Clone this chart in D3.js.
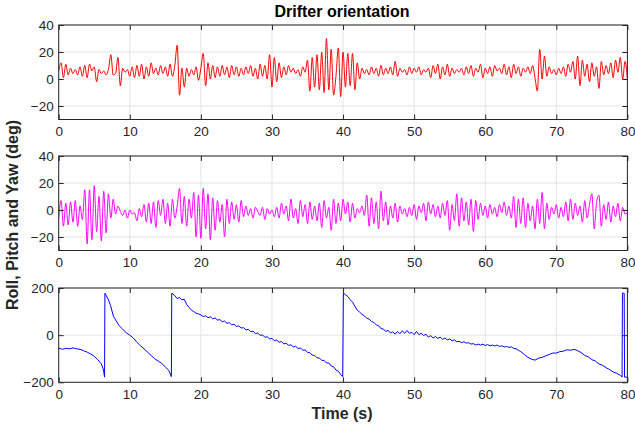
<!DOCTYPE html>
<html>
<head>
<meta charset="utf-8">
<script src="https://cdn.jsdelivr.net/npm/d3@7"></script>
<style>
html,body{margin:0;padding:0;background:#fff;}
svg{display:block;font-family:"Liberation Sans",Arial,Helvetica,sans-serif;}
</style>
</head>
<body>
<svg id="chart" width="635" height="430"></svg>
<script>
// ---------------- DATA ----------------
const title = "Drifter orientation";
const yLabel = "Roll, Pitch and Yaw (deg)";
const xLabel = "Time (s)";
const xTicks = [0, 10, 20, 30, 40, 50, 60, 70, 80];
const rollTicks = [-20, 0, 20, 40];
const pitchTicks = [-20, 0, 20, 40];
const yawTicks = [-200, 0, 200];
const sampleInterval = 1 / 3; // seconds between roll/pitch samples

// Roll (deg), 3 samples per second, t = 0 .. 80 s
const roll = [
  6, 12, 1,   11, 3, 8,    4, 7, 3,    9, 2, 10,   1, 11, 6,   9, -2, 7,
  4, 6, 3,    7, 18, 3,    4, 16, -5,  8, 5, 7,    2, 9, 1,    10, 2, 11,
  0, 9, 2,    12, 4, 8,    3, 10, 4,   9, 2, 11,   2, 10, 25,  -12, 8, -6,
  8, 2, 7,    3, 9, -1,    8, 19, -5,  12, 0, 10,  1, 9, 2,    10, 3, 9,
  1, 10, 3,   9, 2, 8,     3, 9, 4,    10, 2, 8,   0, 11, 2,   10, 0, 18,
  -6, 16, -2, 12, 1, 9,    3, 10, 5,   8, 4, 7,    2, 9, 5,    14, -9, 16,
  -6, 18, -8, 20, -10, 30, -8, 22, -12, 2, 23, -13, 20, -6, 19, -5, 19, -8,
  12, 0, 8,   4, 7, 3,     9, 4, 8,    2, 10, 3,   8, 4, 9,    3, 13, 2,
  8, 5, 7,    3, 9, 4,     8, 5, 9,    3, 7, 5,    8, 1, 10,   4, 11, 0,
  9, 3, 11,   2, 8, 4,     7, 5, 8,    3, 9, 4,    10, 2, 8,   5, 11, 1,
  8, 4, 9,    2, 10, 6,    8, 4, 11,   3, 9, 1,    11, 4, 9,   2, 8, 5,
  9, 4, 10,   1, -9, 22,   0, 17, 2,   9, 4, 7,    3, 8, 4,    9, 2, 11,
  5, 13, 0,   17, -5, 14,  2, 11, -2,  12, 2, 9,   -7, 13, 3,  10, 4, 12,
  1, 14, 5,   16, 0, 13,   0
];

// Pitch (deg), 3 samples per second, t = 0 .. 80 s
const pitch = [
  -6, 7, -12,  5, -11, 6,   -9, 7, -12,  3, -7, 15,  -25, 15, -22, 18, -16, 10,
  -23, 14, -17, 12, -6, 8,  -3, 3, -1,   -4, 0, -6,  0, -3, -2,   -8, 1, -5,
  4, -9, 5,    -10, 6, -13, 7, -4, 8,    -10, 5, -12, 8, -6, 3,   16, -10, 10,
  -12, 8, -6,  13, -20, 11, -21, 16, -14, 12, -22, 9, -15, 7, -9,  4, -20, 8,
  -10, 6, -7,  4, -9, 7,    -5, 3, -4,   1, -6, 2,   -1, -4, 2,   -7, 1, -3,
  0, -5, 2,    -6, 5, -3,   3, -8, 8,    -6, 1, -10, 7, -5, 4,    -10, 6, -7,
  3, -8, 5,    -13, 7, -6,  2, -15, 8,   -10, 5, -8, 8, -3, 6,    -9, 5, -6,
  1, -2, 3,    -4, 11, -12, 9, -10, 6,   -14, 14, -8, 6, -11, 3,  -6, 5, -9,
  3, -3, 1,    -5, 2, -4,   4, -7, 3,    -2, 5, -8,  6, -3, 4,    -5, 3, -6,
  5, -4, 7,    -15, 4, -8,  12, -12, 9,  -8, 6, -11, 8, -16, 7,   -7, 5, -4,
  3, -6, 4,    -3, 2, -5,   4, -2, 6,    -4, 3, -6,  10, -13, 8,  -10, 9, -13,
  5, -8, 3,    -14, 8, -10, 13, -14, 5,  -7, 2, -3,  4, -6, 2,    -5, 6, -8,
  8, -7, 5,    -4, 3, -9,   7, -6, 4,    12, -14, 6, 11, -12, 4,  -7, 6, -9,
  3, -5, 5,    -8, 2, -3,   -2
];

// Yaw (deg): [time (s), value] pairs, wraps at +/-180
const yaw = [
  [0,-55],[0.5,-60],[1,-56],[1.5,-58],[2,-54],[2.5,-58],[3,-60],[3.5,-66],[4,-72],[4.5,-80],
  [5,-90],[5.5,-104],[6,-122],[6.3,-148],[6.45,-178],[6.5,178],[7,150],[7.3,125],[7.7,80],[8,65],
  [8.5,40],[9,25],[9.5,10],[10,0],[10.5,-12],[11,-30],[11.5,-45],[12,-58],[12.5,-72],[13,-86],
  [13.5,-100],[14,-110],[14.5,-120],[15,-135],[15.5,-150],[15.85,-176],[15.9,178],
  [16.33,168],[16.67,155],[17,160],[17.33,150],[17.67,152],[18,130],[18.33,118],[18.67,106],[19,100],
  [19.33,93],[19.67,90],[20,86],[20.33,79],[20.67,82],[21,74],[21.33,78],[21.67,69],[22,73],[22.33,64],
  [22.67,66],[23,57],[23.33,60],[23.67,50],[24,53],[24.33,44],[24.67,46],[25,37],[25.33,39],[25.67,30],
  [26,32],[26.33,22],[26.67,25],[27,15],[27.33,17],[27.67,7],[28,9],[28.33,-1],[28.67,1],[29,-9],
  [29.33,-7],[29.67,-16],[30,-14],[30.33,-23],[30.67,-21],[31,-30],[31.33,-27],[31.67,-37],[32,-34],[32.33,-43],
  [32.67,-41],[33,-50],[33.33,-47],[33.67,-57],[34,-54],[34.33,-64],[34.67,-63],[35,-73],[35.33,-74],[35.67,-85],
  [36,-86],[36.33,-96],[36.67,-97],[37,-107],[37.33,-107],[37.67,-118],[38,-118],[38.33,-131],[38.67,-134],[39,-148],
  [39.33,-153],[39.67,-167],[39.95,-176],[40.05,178],
  [40.33,172],[40.67,164],[41,150],[41.33,140],[41.67,122],[42,106],[42.33,98],[42.67,88],[43,82],[43.33,72],
  [43.67,68],[44,58],[44.33,54],[44.67,44],[45,40],[45.33,28],[45.67,26],[46,16],[46.33,20],[46.67,10],
  [47,14],[47.33,4],[47.67,16],[48,6],[48.33,18],[48.67,8],[49,20],[49.33,8],[49.67,12],[50,2],
  [50.33,16],[50.67,2],[51,8],[51.33,-2],[51.67,4],[52,-8],[52.33,-2],[52.67,-12],[53,-6],[53.33,-14],
  [53.67,-8],[54,-18],[54.33,-12],[54.67,-20],[55,-16],[55.33,-24],[55.67,-20],[56,-28],[56.33,-26],[56.67,-32],
  [57,-28],[57.33,-34],[57.67,-32],[58,-38],[58.33,-36],[58.67,-42],[59,-38],[59.33,-42],[59.67,-38],[60,-44],
  [60.33,-40],[60.67,-45],[61,-42],[61.33,-46],[61.67,-42],[62,-48],[62.33,-45],[62.67,-50],[63,-48],[63.33,-52],
  [63.67,-50],[64,-56],[64.33,-58],[64.67,-64],[65,-70],[65.5,-82],[66,-94],[66.5,-102],[67,-106],[67.5,-98],
  [68,-94],[68.5,-88],[69,-82],[69.5,-76],[70,-76],[70.5,-70],[71,-68],[71.5,-62],[72,-64],[72.5,-60],
  [73,-66],[73.5,-74],[74,-86],[74.5,-92],[75,-104],[75.5,-110],[76,-122],[76.5,-128],[77,-138],[77.5,-146],
  [78,-156],[78.5,-162],[79,-170],[79.25,-178],[79.3,178],[79.55,178],[79.6,-178],[80,-178]
];

// ---------------- DRAWING ----------------
const svg = d3.select("#chart");
const x0 = 58.7, x1 = 627.4;
const axisColor = "#262626";
const gridColor = "#e3e3e3";

const x = d3.scaleLinear().domain([0, 80]).range([x0, x1]);

const panels = [
  { top: 25,  bottom: 119.5, domain: [-30, 40],   ticks: rollTicks,  color: "#ff0000",
    data: roll.map((v, i) => [i * sampleInterval, v]), curve: d3.curveMonotoneX },
  { top: 156, bottom: 250.5, domain: [-30, 40],   ticks: pitchTicks, color: "#ff00ff",
    data: pitch.map((v, i) => [i * sampleInterval, v]), curve: d3.curveMonotoneX },
  { top: 288, bottom: 382.3, domain: [-200, 200], ticks: yawTicks,   color: "#0000ff",
    data: yaw, curve: d3.curveLinear }
];

panels.forEach((p, idx) => {
  const y = d3.scaleLinear().domain(p.domain).range([p.bottom, p.top]);
  const h = p.bottom - p.top;
  const g = svg.append("g");

  // grid
  g.append("g").selectAll("line").data(xTicks).join("line")
    .attr("x1", d => x(d)).attr("x2", d => x(d))
    .attr("y1", p.top).attr("y2", p.bottom)
    .attr("stroke", gridColor).attr("stroke-width", 1);
  g.append("g").selectAll("line").data(p.ticks).join("line")
    .attr("x1", x0).attr("x2", x1)
    .attr("y1", d => y(d)).attr("y2", d => y(d))
    .attr("stroke", gridColor).attr("stroke-width", 1);

  // clip + data line
  const clipId = "clip" + idx;
  svg.append("clipPath").attr("id", clipId).append("rect")
    .attr("x", x0).attr("y", p.top).attr("width", x1 - x0).attr("height", h);
  const line = d3.line().x(d => x(d[0])).y(d => y(d[1])).curve(p.curve);
  g.append("path").datum(p.data)
    .attr("clip-path", `url(#${clipId})`)
    .attr("fill", "none").attr("stroke", p.color).attr("stroke-width", 1)
    .attr("stroke-linejoin", "round")
    .attr("d", line);

  // axes (ticks inside)
  const styleAxis = sel => {
    sel.select(".domain").remove();
    sel.selectAll(".tick line").attr("stroke", axisColor);
    sel.selectAll(".tick text").attr("fill", axisColor)
      .style("font-size", "13.5px").style("font-family", '"Liberation Sans",Arial,sans-serif');
  };
  g.append("g").attr("transform", `translate(0,${p.bottom})`)
    .call(d3.axisBottom(x).tickValues(xTicks).tickSize(-5).tickPadding(7).tickFormat(d3.format("d")))
    .call(styleAxis);
  g.append("g").attr("transform", `translate(0,${p.top})`)
    .call(d3.axisTop(x).tickValues(xTicks).tickSize(-5).tickFormat(""))
    .call(styleAxis);
  g.append("g").attr("transform", `translate(${x0},0)`)
    .call(d3.axisLeft(y).tickValues(p.ticks).tickSize(-5).tickPadding(5).tickFormat(d3.format("d")))
    .call(styleAxis);
  g.append("g").attr("transform", `translate(${x1},0)`)
    .call(d3.axisRight(y).tickValues(p.ticks).tickSize(-5).tickFormat(""))
    .call(styleAxis);

  // box
  g.append("rect").attr("x", x0).attr("y", p.top).attr("width", x1 - x0).attr("height", h)
    .attr("fill", "none").attr("stroke", axisColor).attr("stroke-width", 1);
});

// titles
svg.append("text").attr("x", 342).attr("y", 17)
  .attr("text-anchor", "middle").attr("font-weight", "bold").attr("font-size", "16px")
  .attr("fill", "#000").text(title);
svg.append("text").attr("x", 342).attr("y", 419)
  .attr("text-anchor", "middle").attr("font-weight", "bold").attr("font-size", "16px")
  .attr("fill", "#262626").text(xLabel);
svg.append("text").attr("transform", "translate(18,215) rotate(-90)")
  .attr("text-anchor", "middle").attr("font-weight", "bold").attr("font-size", "16px")
  .attr("fill", "#262626").text(yLabel);
</script>
</body>
</html>
